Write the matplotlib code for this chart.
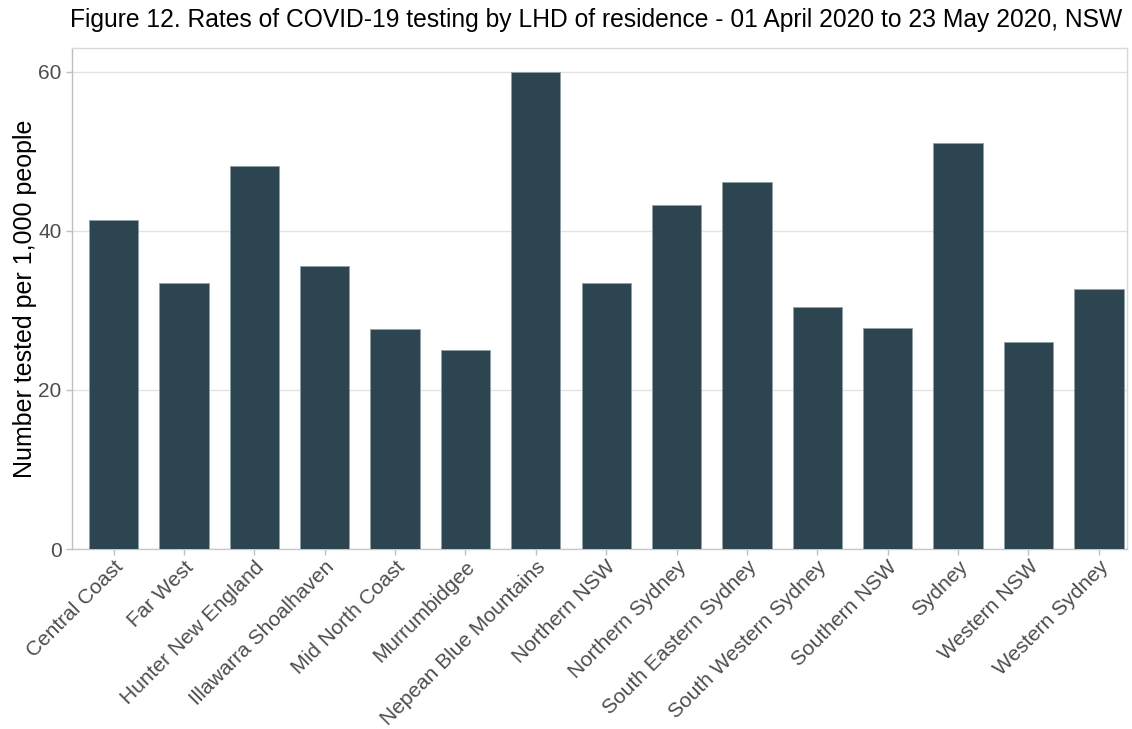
import matplotlib.pyplot as plt
import numpy as np

plt.rcParams['font.family'] = ['Liberation Sans', 'DejaVu Sans']

# Datos
districts = ["Central Coast", "Far West", "Hunter New England", "Illawarra Shoalhaven",
             "Mid North Coast", "Murrumbidgee", "Nepean Blue Mountains", "Northern NSW",
             "Northern Sydney", "South Eastern Sydney", "South Western Sydney",
             "Southern NSW", "Sydney", "Western NSW", "Western Sydney"]
rates = [41.4, 33.5, 48.2, 35.6, 27.7, 25.0, 60.0, 33.5,
         43.2, 46.1, 30.4, 27.8, 51.0, 26.0, 32.7]

fig = plt.figure(figsize=(11.32, 7.29), dpi=100)
ax = fig.add_axes([0.0636, 0.2469, 0.9320, 0.6873])

x = np.arange(len(districts))
ax.bar(x, rates, width=0.7, color="#2d4550", edgecolor="#8fa0a8", linewidth=0.6, zorder=3)

ax.set_xlim(-0.59, len(districts) - 0.6)
ax.set_ylim(0, 63)
ax.set_yticks([0, 20, 40, 60])
ax.set_xticks(x)
ax.set_xticklabels(districts, rotation=45, ha="right", rotation_mode="anchor")

ax.grid(axis="y", color="#e3e3e3", linewidth=1.0, zorder=0)
for s in ax.spines.values():
    s.set_color("#d9d9d9")
    s.set_linewidth(1.0)
ax.spines["left"].set_color("#bdbdbd")
ax.spines["bottom"].set_color("#c8c8c8")

ax.tick_params(axis="both", colors="#c0c0c0", length=4, width=1.0,
               labelcolor="#4d4d4d", labelsize=15)
ax.tick_params(axis="x", pad=2)

ax.set_ylabel("Number tested per 1,000 people", fontsize=18, color="black", labelpad=1)
fig.text(0.527, 0.972, "Figure 12. Rates of COVID-19 testing by LHD of residence - 01 April 2020 to 23 May 2020, NSW",
         ha="center", va="center", fontsize=17.7, color="black")

plt.savefig("out.png", dpi=100)
